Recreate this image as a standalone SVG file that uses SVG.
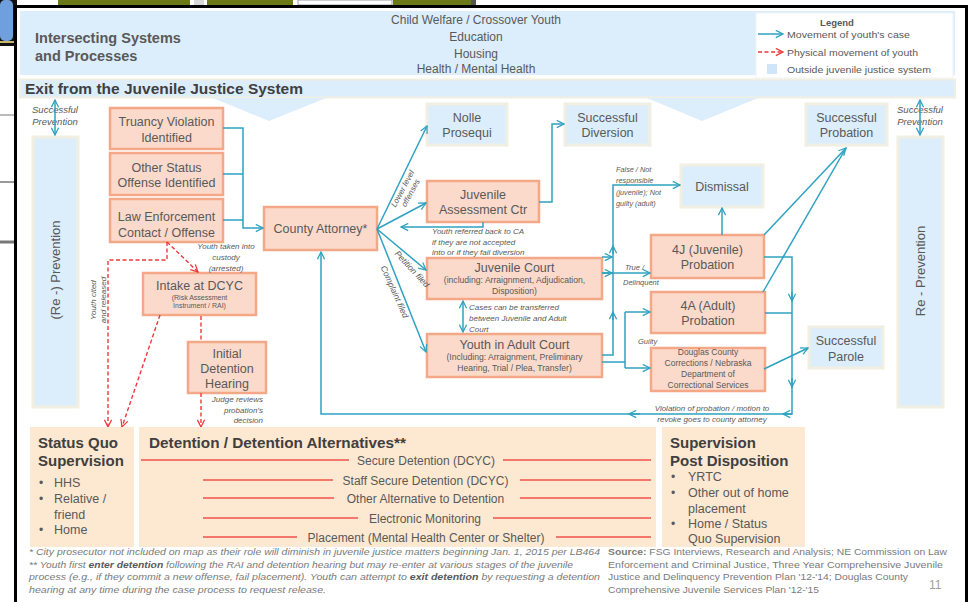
<svg xmlns="http://www.w3.org/2000/svg" width="975" height="602" viewBox="0 0 975 602">
  <defs>
    <marker id="ah" viewBox="0 0 10 10" refX="9" refY="5" markerWidth="9" markerHeight="9" markerUnits="userSpaceOnUse" orient="auto-start-reverse">
      <path d="M1,1 L9,5 L1,9" fill="none" stroke="#2ea2c0" stroke-width="1.4"/>
    </marker>
    <marker id="ahr" viewBox="0 0 10 10" refX="9" refY="5" markerWidth="9" markerHeight="9" markerUnits="userSpaceOnUse" orient="auto-start-reverse">
      <path d="M1,1 L9,5 L1,9" fill="none" stroke="#f0383a" stroke-width="1.4"/>
    </marker>
    <style>
      text { font-family: "Liberation Sans", Arial, sans-serif; fill: #595959; }
      .n rect { fill: #fbdacb; stroke: #f4a888; stroke-width: 2.5; }
      .o rect { fill: #dcedfb; stroke: #f1eee2; stroke-width: 3; }
      .t { font-size: 12.5px; text-anchor: middle; }
      .s { font-size: 8.6px; text-anchor: middle; }
      .lab { font-size: 8px; font-style: italic; }
      .c { fill: none; stroke: #2ea2c0; stroke-width: 1.5; }
      .ca { fill: none; stroke: #2ea2c0; stroke-width: 1.5; marker-end: url(#ah); }
      .r { fill: none; stroke: #f0383a; stroke-width: 1.4; stroke-dasharray: 4 2.5; }
      .ra { fill: none; stroke: #f0383a; stroke-width: 1.4; stroke-dasharray: 4 2.5; marker-end: url(#ahr); }
      .cream { fill: #fde8d1; }
      .hd { font-size: 15px; font-weight: bold; fill: #404040; }
      .it { font-size: 12.5px; }
      .redl { stroke: #f0524c; stroke-width: 1.5; }
      .foot { font-size: 9px; font-style: italic; fill: #7a7a7a; }
      .src { font-size: 9px; fill: #7a7a7a; }
      .leg { font-size: 9.5px; }
    </style>
  </defs>

  <!-- page behind the slide -->
  <rect x="0" y="0" width="975" height="602" fill="#ffffff"/>
  <rect x="0" y="0" width="17" height="46" fill="#111111"/>
  <rect x="0" y="0" width="13" height="41" rx="5" fill="#6f9fdc"/>
  <rect x="0" y="41" width="14" height="2" fill="#c8b56a"/>
  <rect x="58" y="0" width="132" height="5" fill="#6b7a16"/>
  <rect x="194" y="0" width="10" height="5" fill="#d8d8d8"/>
  <rect x="207" y="0" width="86" height="5" fill="#6b7a16"/>
  <rect x="298" y="0" width="94" height="5" fill="#ffffff" stroke="#9a9a9a" stroke-width="1"/>
  <rect x="393" y="0" width="78" height="5" fill="#6b7a16"/>
  <rect x="471" y="0" width="5" height="5" fill="#555555"/>
  <g stroke="#777777">
    <line x1="0" y1="115" x2="14" y2="115" stroke-width="1"/>
    <line x1="0" y1="182" x2="14" y2="182" stroke-width="1.5"/>
    <line x1="0" y1="242" x2="14" y2="242" stroke-width="3"/>
  </g>

  <!-- slide frame -->
  <rect x="15.5" y="6.5" width="951" height="600" fill="#ffffff" stroke="#000000" stroke-width="3"/>

  <!-- header band -->
  <rect x="20" y="11" width="935" height="64" fill="#dcedfb"/>
  <text x="35" y="43" class="hd" style="font-size:14.5px;fill:#595959">Intersecting Systems</text>
  <text x="35" y="61" class="hd" style="font-size:14.5px;fill:#595959">and Processes</text>
  <g font-size="12" text-anchor="middle">
    <text x="476" y="24">Child Welfare / Crossover Youth</text>
    <text x="476" y="41">Education</text>
    <text x="476" y="57.5">Housing</text>
    <text x="476" y="73">Health / Mental Health</text>
  </g>

  <!-- legend -->
  <g id="legend">
    <rect x="756" y="13" width="197" height="65" fill="#ffffff" stroke="#eef3f8" stroke-width="1"/>
    <text x="837" y="26" font-size="9.5" font-weight="bold" text-anchor="middle">Legend</text>
    <path d="M758,34 H783" class="ca"/>
    <text x="787" y="37.5" class="leg" textLength="123" lengthAdjust="spacingAndGlyphs">Movement of youth's case</text>
    <path d="M758,52 H783" class="ra"/>
    <text x="787" y="55.5" class="leg" textLength="131" lengthAdjust="spacingAndGlyphs">Physical movement of youth</text>
    <rect x="767" y="64" width="10" height="10" fill="#cfe6f9"/>
    <text x="787" y="72.5" class="leg" textLength="144" lengthAdjust="spacingAndGlyphs">Outside juvenile justice system</text>
  </g>

  <!-- exit band with its downward pointers -->
  <rect x="20" y="79.5" width="935" height="18" fill="#dcedfb" stroke="#f1eee2" stroke-width="2"/>
  <polygon points="213,98 326,98 269,121" fill="#dcedfb"/>
  <polygon points="647,98 758,98 702,121" fill="#dcedfb"/>
  <text x="25" y="93.5" class="hd" textLength="278" lengthAdjust="spacingAndGlyphs">Exit from the Juvenile Justice System</text>

  <!-- prevention columns -->
  <g id="prev-left" class="o">
    <rect x="33" y="137" width="45" height="270"/>
    <text transform="translate(60,270) rotate(-90)" class="t" style="font-size:13px">(Re -) Prevention</text>
  </g>
  <g id="prev-right" class="o">
    <rect x="898" y="137" width="45" height="270"/>
    <text transform="translate(925,271) rotate(-90)" class="t" style="font-size:13px">Re - Prevention</text>
  </g>
  <g class="lab" text-anchor="middle">
    <text x="55" y="113" style="font-size:9.5px">Successful</text>
    <text x="55" y="125" style="font-size:9.5px">Prevention</text>
    <text x="920" y="113" style="font-size:9.5px">Successful</text>
    <text x="920" y="125" style="font-size:9.5px">Prevention</text>
  </g>

  <!-- nodes -->
  <g id="n-truancy" class="n">
    <rect x="110" y="108" width="113" height="41"/>
    <text x="166.5" y="125.5" class="t">Truancy Violation</text>
    <text x="166.5" y="141.5" class="t">Identified</text>
  </g>
  <g id="n-status" class="n">
    <rect x="110" y="153" width="113" height="42"/>
    <text x="166.5" y="171.5" class="t">Other Status</text>
    <text x="166.5" y="186.5" class="t">Offense Identified</text>
  </g>
  <g id="n-law" class="n">
    <rect x="110" y="199" width="113" height="43"/>
    <text x="166.5" y="220.5" class="t">Law Enforcement</text>
    <text x="166.5" y="236.5" class="t">Contact / Offense</text>
  </g>
  <g id="n-county" class="n">
    <rect x="264" y="207" width="113" height="43"/>
    <text x="320.5" y="233" class="t">County Attorney*</text>
  </g>
  <g id="n-intake" class="n">
    <rect x="143" y="273" width="113" height="42"/>
    <text x="199.5" y="289.5" class="t">Intake at DCYC</text>
    <text x="199.5" y="299.5" class="t" style="font-size:7px">(Risk Assessment</text>
    <text x="199.5" y="307.5" class="t" style="font-size:7px">Instrument  / RAI)</text>
  </g>
  <g id="n-hearing" class="n">
    <rect x="188" y="342" width="78" height="51"/>
    <text x="227" y="357.5" class="t">Initial</text>
    <text x="227" y="372.5" class="t">Detention</text>
    <text x="227" y="388" class="t">Hearing</text>
  </g>
  <g id="n-nolle" class="o">
    <rect x="427" y="104" width="80" height="41"/>
    <text x="467" y="121.5" class="t">Nolle</text>
    <text x="467" y="136.5" class="t">Prosequi</text>
  </g>
  <g id="n-jac" class="n">
    <rect x="427" y="181" width="112" height="41"/>
    <text x="483" y="198.5" class="t">Juvenile</text>
    <text x="483" y="213.5" class="t">Assessment Ctr</text>
  </g>
  <g id="n-diversion" class="o">
    <rect x="565" y="104" width="85" height="41"/>
    <text x="607.5" y="121.5" class="t">Successful</text>
    <text x="607.5" y="136.5" class="t">Diversion</text>
  </g>
  <g id="n-juvcourt" class="n">
    <rect x="427" y="258" width="175" height="41"/>
    <text x="514.5" y="271.5" class="t">Juvenile  Court</text>
    <text x="514.5" y="283" class="s">(including: Arraignment, Adjudication,</text>
    <text x="514.5" y="294" class="s">Disposition)</text>
  </g>
  <g id="n-adultcourt" class="n">
    <rect x="427" y="334" width="175" height="43"/>
    <text x="514.5" y="348.5" class="t">Youth in Adult Court</text>
    <text x="514.5" y="360" class="s">(Including: Arraignment, Preliminary</text>
    <text x="514.5" y="371" class="s">Hearing, Trial / Plea, Transfer)</text>
  </g>
  <g id="n-dismissal" class="o">
    <rect x="681" y="165" width="82" height="42"/>
    <text x="722" y="190.5" class="t">Dismissal</text>
  </g>
  <g id="n-4j" class="n">
    <rect x="651" y="235" width="113" height="43"/>
    <text x="707.5" y="253.5" class="t">4J (Juvenile)</text>
    <text x="707.5" y="268.5" class="t">Probation</text>
  </g>
  <g id="n-4a" class="n">
    <rect x="651" y="292" width="114" height="41"/>
    <text x="708" y="309.5" class="t">4A (Adult)</text>
    <text x="708" y="324.5" class="t">Probation</text>
  </g>
  <g id="n-douglas" class="n">
    <rect x="651" y="348" width="114" height="43"/>
    <text x="708" y="355" class="s" style="font-size:8.5px">Douglas County</text>
    <text x="708" y="366" class="s" style="font-size:8.5px">Corrections / Nebraska</text>
    <text x="708" y="376.5" class="s" style="font-size:8.5px">Department of</text>
    <text x="708" y="388" class="s" style="font-size:8.5px">Correctional Services</text>
  </g>
  <g id="n-probation-ok" class="o">
    <rect x="806" y="104" width="81" height="41"/>
    <text x="846.5" y="121.5" class="t">Successful</text>
    <text x="846.5" y="136.5" class="t">Probation</text>
  </g>
  <g id="n-parole-ok" class="o">
    <rect x="809" y="327" width="74" height="41"/>
    <text x="846" y="344.5" class="t">Successful</text>
    <text x="846" y="360.5" class="t">Parole</text>
  </g>

  <!-- connectors -->
  <g id="connectors">
    <path d="M55,100 V135" class="c" marker-start="url(#ah)" marker-end="url(#ah)"/>
    <path d="M920,100 V135" class="c" marker-start="url(#ah)" marker-end="url(#ah)"/>
    <path d="M223,128 H243 V228 H263" class="ca"/>
    <path d="M223,174 H243 M223,220 H243" class="c"/>
    <path d="M377,229 L427,126" class="ca"/>
    <path d="M377,229 L426,203" class="ca"/>
    <path d="M377,229 L426,270" class="ca"/>
    <path d="M377,229 L426,352" class="ca"/>
    <path d="M539,202 H552 V124 H564" class="ca"/>
    <path d="M483,222 V227 H401" class="ca"/>
    <path d="M463,301 V332" class="c" marker-start="url(#ah)" marker-end="url(#ah)"/>
    <path d="M602,257 H612" class="ca"/>
    <path d="M602,355 H613 V185 H680" class="ca"/>
    <path d="M613,254 V246" class="ca"/>
    <path d="M613,320 V312" class="ca"/>
    <path d="M602,273 H650" class="ca"/>
    <path d="M602,273 H612" class="ca"/>
    <path d="M602,362 H625 M625,312 V368" class="c"/>
    <path d="M625,312 H650" class="ca"/>
    <path d="M625,368 H650" class="ca"/>
    <path d="M722,235 V208" class="ca"/>
    <path d="M764,235 L846,148" class="ca"/>
    <path d="M763,292 L846,148" class="c"/>
    <path d="M764,257 H792 V414 H321 V252" class="ca"/>
    <path d="M765,313 H792" class="c"/>
    <path d="M792,292 V301" class="ca"/>
    <path d="M792,378 V387" class="ca"/>
    <path d="M792,414 H783" class="ca"/>
    <path d="M640,414 H629" class="ca"/>
    <path d="M764,369 L808,348" class="ca"/>

    <path d="M167,242 V260 H108 V427" class="ra"/>
    <path d="M167,242 L198,272" class="ra"/>
    <path d="M160,315 L122,427" class="ra"/>
    <path d="M201,316 V342" class="r"/>
    <path d="M201,393 V427" class="ra"/>
  </g>

  <!-- connector labels -->
  <g class="lab">
    <g text-anchor="middle">
      <text x="226" y="249">Youth taken into</text>
      <text x="226" y="260">custody</text>
      <text x="226" y="271">(arrested)</text>
    </g>
    <g text-anchor="end">
      <text x="263" y="402">Judge reviews</text>
      <text x="263" y="413">probation’s</text>
      <text x="263" y="423">decision</text>
    </g>
    <text transform="translate(96,300) rotate(-90)" text-anchor="middle">Youth cited</text>
    <text transform="translate(106,300) rotate(-90)" text-anchor="middle">and released</text>
    <g transform="translate(405,190) rotate(-62)" text-anchor="middle">
      <text x="0" y="0">Lower  level</text>
      <text x="0" y="9">offenses</text>
    </g>
    <text transform="translate(410,271) rotate(47)" text-anchor="middle" font-size="8.5">Petition filed</text>
    <text transform="translate(392,293) rotate(66)" text-anchor="middle" font-size="8.5">Complaint  filed</text>
    <text x="432" y="234">Youth referred back to CA</text>
    <text x="432" y="245">if they are not accepted</text>
    <text x="432" y="255">into or if they fail diversion</text>
    <text x="469" y="310">Cases can be transferred</text>
    <text x="469" y="321">between Juvenile and Adult</text>
    <text x="469" y="332">Court</text>
    <g style="font-size:7.3px">
      <text x="616" y="172">False / Not</text>
      <text x="616" y="183">responsible</text>
      <text x="616" y="194.5">(juvenile); Not</text>
      <text x="616" y="206">guilty (adult)</text>
    </g>
    <text x="625" y="270" style="font-size:7.5px">True /</text>
    <text x="623" y="285" style="font-size:7.5px">Delinquent</text>
    <text x="638" y="344" style="font-size:7.5px">Guilty</text>
    <g text-anchor="middle">
      <text x="712" y="411">Violation of probation / motion  to</text>
      <text x="712" y="422">revoke goes to county attorney</text>
    </g>
  </g>

  <!-- bottom placement boxes -->
  <g id="n-statusquo">
    <rect x="30" y="427" width="104" height="120" class="cream"/>
    <text x="38" y="448" class="hd" style="fill:#404040">Status Quo</text>
    <text x="38" y="466" class="hd" style="fill:#404040">Supervision</text>
    <g class="it">
      <text x="39" y="487" style="font-size:12px">•</text><text x="54" y="487">HHS</text>
      <text x="39" y="503" style="font-size:12px">•</text><text x="54" y="503">Relative /</text>
      <text x="54" y="518.5">friend</text>
      <text x="39" y="534" style="font-size:12px">•</text><text x="54" y="534">Home</text>
    </g>
  </g>
  <g id="n-detention">
    <rect x="139" y="427" width="517" height="120" class="cream"/>
    <text x="149" y="448" class="hd" textLength="257" lengthAdjust="spacingAndGlyphs" style="fill:#404040">Detention / Detention Alternatives**</text>
    <g font-size="12" text-anchor="middle">
      <line x1="141" y1="460" x2="349" y2="460" class="redl"/>
      <text x="426" y="464.5">Secure Detention (DCYC)</text>
      <line x1="503" y1="460" x2="651" y2="460" class="redl"/>
      <line x1="203" y1="480" x2="333" y2="480" class="redl"/>
      <text x="425.5" y="484.5">Staff Secure Detention (DCYC)</text>
      <line x1="520" y1="480" x2="651" y2="480" class="redl"/>
      <line x1="203" y1="498" x2="334" y2="498" class="redl"/>
      <text x="425.5" y="502.5">Other Alternative to Detention</text>
      <line x1="520" y1="498" x2="651" y2="498" class="redl"/>
      <line x1="203" y1="518" x2="358" y2="518" class="redl"/>
      <text x="425" y="522.5">Electronic Monitoring</text>
      <line x1="493" y1="518" x2="651" y2="518" class="redl"/>
      <line x1="203" y1="537" x2="297" y2="537" class="redl"/>
      <text x="426" y="541.5">Placement (Mental Health Center or Shelter)</text>
      <line x1="556" y1="537" x2="651" y2="537" class="redl"/>
    </g>
  </g>
  <g id="n-postdisp">
    <rect x="662" y="427" width="143" height="120" class="cream"/>
    <text x="670" y="448" class="hd" style="fill:#404040">Supervision</text>
    <text x="670" y="466" class="hd" style="fill:#404040">Post Disposition</text>
    <g class="it">
      <text x="671" y="481" style="font-size:12px">•</text><text x="688" y="481">YRTC</text>
      <text x="671" y="497" style="font-size:12px">•</text><text x="688" y="497">Other out of home</text>
      <text x="688" y="512.5">placement</text>
      <text x="671" y="527.5" style="font-size:12px">•</text><text x="688" y="527.5">Home / Status</text>
      <text x="688" y="543">Quo Supervision</text>
    </g>
  </g>

  <!-- footnotes and sources -->
  <g>
    <text x="29" y="555" class="foot" textLength="571" lengthAdjust="spacingAndGlyphs">* City prosecutor not included on map as their role will diminish in juvenile justice matters beginning Jan. 1, 2015 per LB464</text>
    <text x="29" y="567.5" class="foot" textLength="544" lengthAdjust="spacingAndGlyphs">** Youth first <tspan font-weight="bold" fill="#595959">enter detention</tspan> following the RAI and detention hearing but may re-enter at various stages of the juvenile</text>
    <text x="29" y="580" class="foot" textLength="571" lengthAdjust="spacingAndGlyphs">process (e.g., if they commit a new offense, fail placement). Youth can attempt to <tspan font-weight="bold" fill="#595959">exit detention</tspan> by requesting a detention</text>
    <text x="29" y="592.5" class="foot" textLength="297" lengthAdjust="spacingAndGlyphs">hearing at any time during the case process to request release.</text>

    <text x="608" y="555" class="src" textLength="339" lengthAdjust="spacingAndGlyphs"><tspan font-weight="bold">Source:</tspan> FSG Interviews, Research and Analysis; NE Commission  on Law</text>
    <text x="608" y="567.5" class="src" textLength="335" lengthAdjust="spacingAndGlyphs">Enforcement and Criminal Justice, Three Year Comprehensive Juvenile</text>
    <text x="608" y="580" class="src" textLength="300" lengthAdjust="spacingAndGlyphs">Justice and Delinquency Prevention Plan '12-'14; Douglas County</text>
    <text x="608" y="592.5" class="src" textLength="211" lengthAdjust="spacingAndGlyphs">Comprehensive Juvenile Services Plan '12-'15</text>
    <text x="929" y="589" font-size="12" style="fill:#a0a0a0">11</text>
  </g>
</svg>
